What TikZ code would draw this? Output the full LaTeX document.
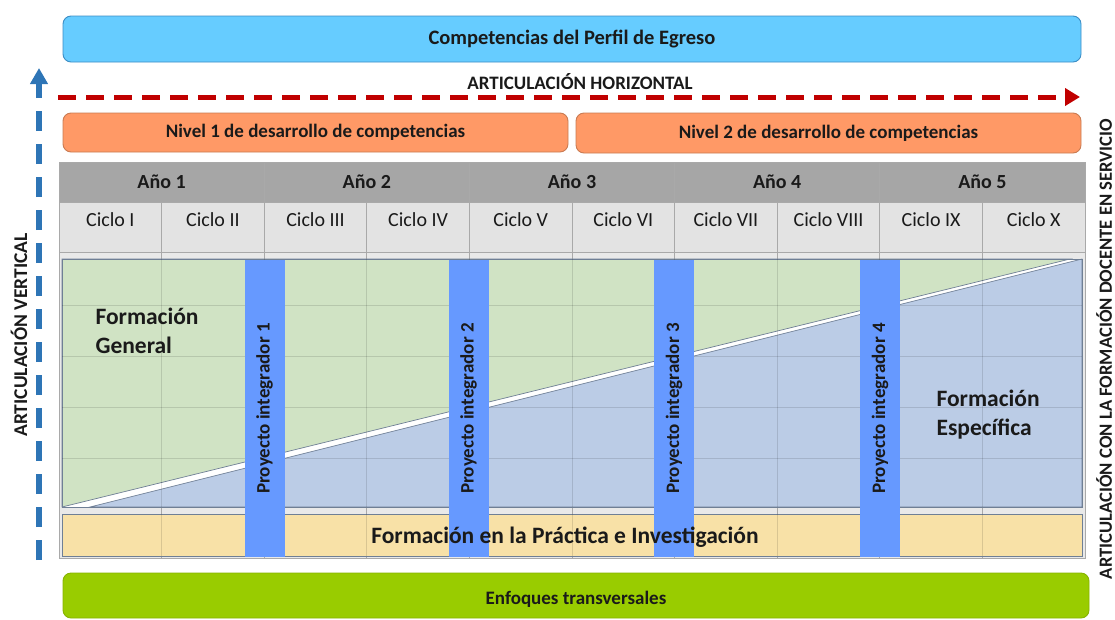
\documentclass[tikz,border=0pt]{standalone}
\usepackage{fontspec}
\setmainfont{Carlito}
\usetikzlibrary{calc,arrows.meta}
\definecolor{perfil}{HTML}{66CCFF}
\definecolor{perfilline}{HTML}{3C8DC4}
\definecolor{nivel}{HTML}{FF9966}
\definecolor{nivelline}{HTML}{C97B52}
\definecolor{anio}{HTML}{A6A6A6}
\definecolor{ciclo}{HTML}{E3E3E3}
\definecolor{general}{HTML}{D0E3C4}
\definecolor{especif}{HTML}{BBCCE6}
\definecolor{practica}{HTML}{F8E1A7}
\definecolor{proy}{HTML}{6699FF}
\definecolor{enfoque}{HTML}{99CC00}
\definecolor{enfoqueline}{HTML}{86B300}
\definecolor{vert}{HTML}{2E75B6}
\definecolor{horiz}{HTML}{C00000}
\definecolor{grid}{HTML}{A9A9A9}
\definecolor{edge}{HTML}{6F7F95}
\definecolor{ink}{HTML}{1A1A1A}
\tikzset{
  panel/.style={rounded corners=8pt, line width=0.9pt, text=ink},
  cell/.style={draw=grid, line width=0.8pt},
  faintgrid/.style={draw=black, opacity=0.12, line width=0.8pt},
  frame/.style={draw=edge, line width=0.7pt},
  lab/.style={text=ink, font=\fontsize{19}{23}\selectfont\bfseries},
  sidelab/.style={text=ink, inner sep=1pt, font=\fontsize{18.6}{22}\selectfont\bfseries},
  biglab/.style={text=ink, font=\fontsize{23.5}{29}\selectfont\bfseries},
  titlelab/.style={font=\fontsize{20.5}{24}\selectfont\bfseries},
  aniolab/.style={text=ink, font=\fontsize{20}{24}\selectfont\bfseries},
  ciclolab/.style={text=ink, font=\fontsize{20}{24}\selectfont},
  vdash/.style={draw=vert, line width=5.5pt, dash pattern=on 20pt off 13pt,
    -{Triangle[length=16pt,width=17pt]}},
  hdash/.style={draw=horiz, line width=5pt, dash pattern=on 18pt off 10pt,
    -{Triangle[length=15pt,width=17pt]}},
}

\begin{document}
\begin{tikzpicture}[x=1pt,y=-1pt]
  \useasboundingbox (0,0) rectangle (1115,619);

  % perfil y niveles
  \node[panel, draw=perfilline, fill=perfil, minimum width=1018pt, minimum height=46pt, titlelab] (perfil) at (572,39) {Competencias del Perfil de Egreso};
  \node[panel, draw=nivelline, fill=nivel, minimum width=505pt, minimum height=39pt, lab] (nivel1) at (315.5,132.5) {Nivel 1 de desarrollo de competencias};
  \node[panel, draw=nivelline, fill=nivel, minimum width=505pt, minimum height=40pt, lab] (nivel2) at (828.5,133) {Nivel 2 de desarrollo de competencias};

  % articulaciones
  \coordinate (vbot) at (39,560);
  \coordinate (vtop) at (39,68);
  \coordinate (hleft) at (58,97);
  \coordinate (hright) at (1080,97);
  \draw[vdash] (vbot) -- (vtop);
  \draw[hdash] (hleft) -- (hright);
  \node[lab] (arth) at (580,82) {ARTICULACIÓN HORIZONTAL};
  \node[sidelab, rotate=90, font=\fontsize{19.5}{23}\selectfont\bfseries] (artv) at (19,335) {ARTICULACIÓN VERTICAL};
  \node[sidelab, rotate=90] (artf) at (1104,349) {ARTICULACIÓN CON LA FORMACIÓN DOCENTE EN SERVICIO};

  % tabla
  \fill[ciclo!80!white] (59,162) rectangle (1085,558);
  \fill[anio] (59,162) rectangle (1085,202);
  \fill[ciclo] (59,202) rectangle (1085,252);
  \foreach \i in {1,...,9}{
    \pgfmathsetmacro{\xx}{59+\i*102.6}
    \ifodd\i
      \draw[cell] (\xx,202) -- (\xx,558);
    \else
      \draw[cell] (\xx,162) -- (\xx,558);
    \fi
  }
  \draw[cell] (59,202) -- (1085,202);
  \draw[cell] (59,252) -- (1085,252);
  \draw[cell] (59,162) rectangle (1085,558);

  % formacion general / especifica
  \fill[white] (62,259) rectangle (1082,507);
  \draw[frame, fill=general] (62,259) -- (1070,259) -- (62,507) -- cycle;
  \draw[frame, fill=especif] (90,507) -- (1082,259) -- (1082,507) -- cycle;
  \draw[frame] (62,259) rectangle (1082,507);
  \draw[frame, fill=practica] (62,514) rectangle (1082,556);
  \foreach \i in {1,...,9}{
    \pgfmathsetmacro{\xx}{59+\i*102.6}
    \draw[faintgrid] (\xx,259) -- (\xx,507);
    \draw[faintgrid] (\xx,514) -- (\xx,556);
  }
  \foreach \yy in {305,356,407,458}
    \draw[faintgrid] (62,\yy) -- (1082,\yy);

  % encabezados
  \foreach \i in {1,...,5}
    \node[aniolab] (anio\i) at ({59+(2*\i-1)*102.6},182) {Año \i};
  \foreach \r [count=\i] in {I,II,III,IV,V,VI,VII,VIII,IX,X}
    \node[ciclolab] (ciclo\i) at ({59+(\i-0.5)*102.6},220) {Ciclo \r};

  % proyectos integradores
  \foreach \xx/\n in {264.5/1,468.5/2,674/3,880/4}
    \node[fill=proy, rotate=90, minimum width=297pt, minimum height=40pt, inner sep=0pt, lab] (proy\n) at (\xx,408.5) {Proyecto integrador \n};

  \node[biglab, anchor=west, align=left] (general) at (92,330.5) {Formación\\General};
  \node[biglab, anchor=west, align=left] (especifica) at (933,414.5) {Formación\\Específica};
  \node[biglab] (practica) at (565,537) {Formación en la Práctica e Investigación};

  % enfoques
  \draw[panel, draw=enfoqueline, fill=enfoque] (63,573) rectangle (1089,618);
  \node[lab] (enfoques) at (576,599) {Enfoques transversales};
\end{tikzpicture}
\end{document}
